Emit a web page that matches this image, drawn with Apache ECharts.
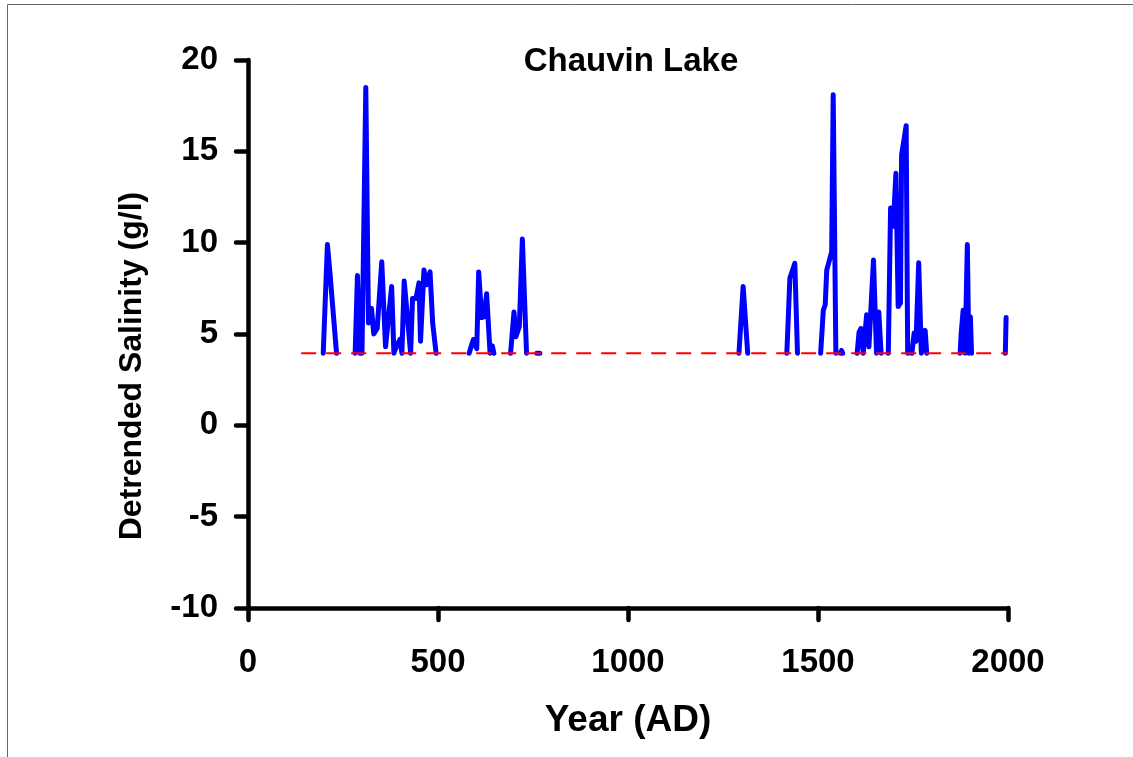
<!DOCTYPE html>
<html>
<head>
<meta charset="utf-8">
<script src="https://cdn.jsdelivr.net/npm/echarts@6/dist/echarts.min.js"></script>
<style>
html,body{margin:0;padding:0;background:#fff;}
#chart{width:1133px;height:757px;}
</style>
</head>
<body>
<div id="chart"></div>
<script>
// Data (null = gap)
const chartTitle = 'Chauvin Lake';
const xAxisTitle = 'Year (AD)';
const yAxisTitle = 'Detrended Salinity (g/l)';
const xTicks = [0, 500, 1000, 1500, 2000];
const yTicks = [-10, -5, 0, 5, 10, 15, 20];
const threshold = 3.95;
const thresholdYears = [140, 2000];

const years = [
  198, 209, 215, 233, null,
  282, 288, 294, 300, 310, 317, 325, 331, 340, 352, 362, 378, 384, 391, 400, 405, 411, 428, 433, 442, 450, 454, 463, 470, 479, 486, 495, null,
  582, 593, 602, 607, 615, 621, 628, 637, 643, 647, null,
  691, 700, 705, 714, 722, 733, null,
  760, 764, 768, null,
  1292, 1303, 1315, null,
  1418, 1426, 1439, 1446, null,
  1507, 1514, 1519, 1523, 1536, 1540, 1547, null,
  1559, 1562, 1565, null,
  1603, 1608, 1613, 1619, 1628, 1634, 1646, 1654, 1660, 1666, null,
  1685, 1691, 1698, 1705, 1711, 1717, 1720, 1732, 1736, null,
  1747, 1753, 1758, 1765, 1772, 1782, 1786, null,
  1874, 1877, 1882, 1887, 1893, 1897, 1901, 1904, null,
  1993, 1995
];
const salinity = [
  3.95, 9.9, 8.5, 3.95, null,
  3.95, 8.2, 3.95, 3.95, 18.5, 5.6, 6.4, 5.0, 5.3, 8.95, 4.3, 7.6, 3.95, 4.35, 4.7, 3.95, 7.9, 3.95, 6.95, 6.95, 7.8, 4.6, 8.5, 7.7, 8.4, 5.6, 3.95, null,
  3.95, 4.7, 4.2, 8.4, 5.9, 5.95, 7.2, 3.95, 4.35, 3.95, null,
  3.95, 6.2, 4.85, 5.4, 10.2, 3.95, null,
  3.95, 4.05, 3.95, null,
  3.95, 7.6, 3.95, null,
  3.95, 8.05, 8.87, 3.95, null,
  3.95, 6.3, 6.6, 8.5, 9.5, 18.1, 3.95, null,
  3.95, 4.1, 3.95, null,
  3.95, 5.1, 5.3, 3.95, 6.05, 4.3, 9.05, 3.95, 6.2, 3.95, null,
  3.95, 11.9, 10.9, 13.8, 6.5, 6.7, 14.8, 16.4, 3.95, null,
  3.95, 5.05, 4.6, 8.9, 3.95, 5.2, 3.95, null,
  3.95, 5.1, 6.3, 3.95, 9.9, 3.95, 5.95, 3.95, null,
  3.95, 5.9
];

const lineData = years.map((y, i) => (y === null ? [NaN, '-'] : [y, salinity[i]]));
const threshData = thresholdYears.map(y => [y, threshold]);

const FONT = '"Liberation Sans", Arial, Helvetica, sans-serif';
const chart = echarts.init(document.getElementById('chart'), null, {renderer: 'canvas'});
chart.setOption({
  animation: false,
  backgroundColor: '#ffffff',
  grid: {left: 248, right: 125, top: 60, bottom: 149, containLabel: false},
  xAxis: {
    type: 'value', min: 0, max: 2000, interval: 500,
    name: xAxisTitle, nameLocation: 'middle', nameGap: 94,
    nameTextStyle: {fontFamily: FONT, fontWeight: 'bold', fontSize: 37, color: '#000'},
    axisLine: {show: true, onZero: false, lineStyle: {color: '#000', width: 4.5}},
    axisTick: {show: true, inside: false, length: 12, lineStyle: {color: '#000', width: 4.5, cap: 'round'}},
    axisLabel: {margin: 38, fontFamily: FONT, fontWeight: 'bold', fontSize: 33, color: '#000',
      formatter: v => (xTicks.includes(v) ? String(v) : '')},
    splitLine: {show: false}
  },
  yAxis: {
    type: 'value', min: -10, max: 20, interval: 5,
    axisLine: {show: true, onZero: false, lineStyle: {color: '#000', width: 4.5}},
    axisTick: {show: true, inside: false, length: 12, lineStyle: {color: '#000', width: 4.5, cap: 'round'}},
    axisLabel: {margin: 30, fontFamily: FONT, fontWeight: 'bold', fontSize: 33, color: '#000',
      formatter: v => (yTicks.includes(v) ? String(v) : '')},
    splitLine: {show: false}
  },
  graphic: [
    {type: 'rect', silent: true, shape: {x: 7.5, y: 4.5, width: 1200, height: 800},
      style: {fill: 'none', stroke: '#666', lineWidth: 1}},
    {type: 'text', x: 631, y: 62, silent: true,
      style: {text: chartTitle, font: 'bold 33px ' + FONT, fill: '#000', textAlign: 'center', textVerticalAlign: 'middle'}},
    {type: 'text', x: 132, y: 366, rotation: Math.PI / 2, silent: true,
      style: {text: yAxisTitle, font: 'bold 32px ' + FONT, fill: '#000', textAlign: 'center', textVerticalAlign: 'middle'}}
  ],
  series: [
    {
      type: 'line', data: lineData, showSymbol: false, symbol: 'none', connectNulls: false,
      lineStyle: {color: '#0000ff', width: 5, join: 'round', cap: 'round'}, z: 2
    },
    {
      type: 'line', data: threshData, showSymbol: false, symbol: 'none',
      lineStyle: {color: '#ff0000', width: 2, type: [15, 10]}, z: 3
    }
  ]
});
</script>
</body>
</html>
